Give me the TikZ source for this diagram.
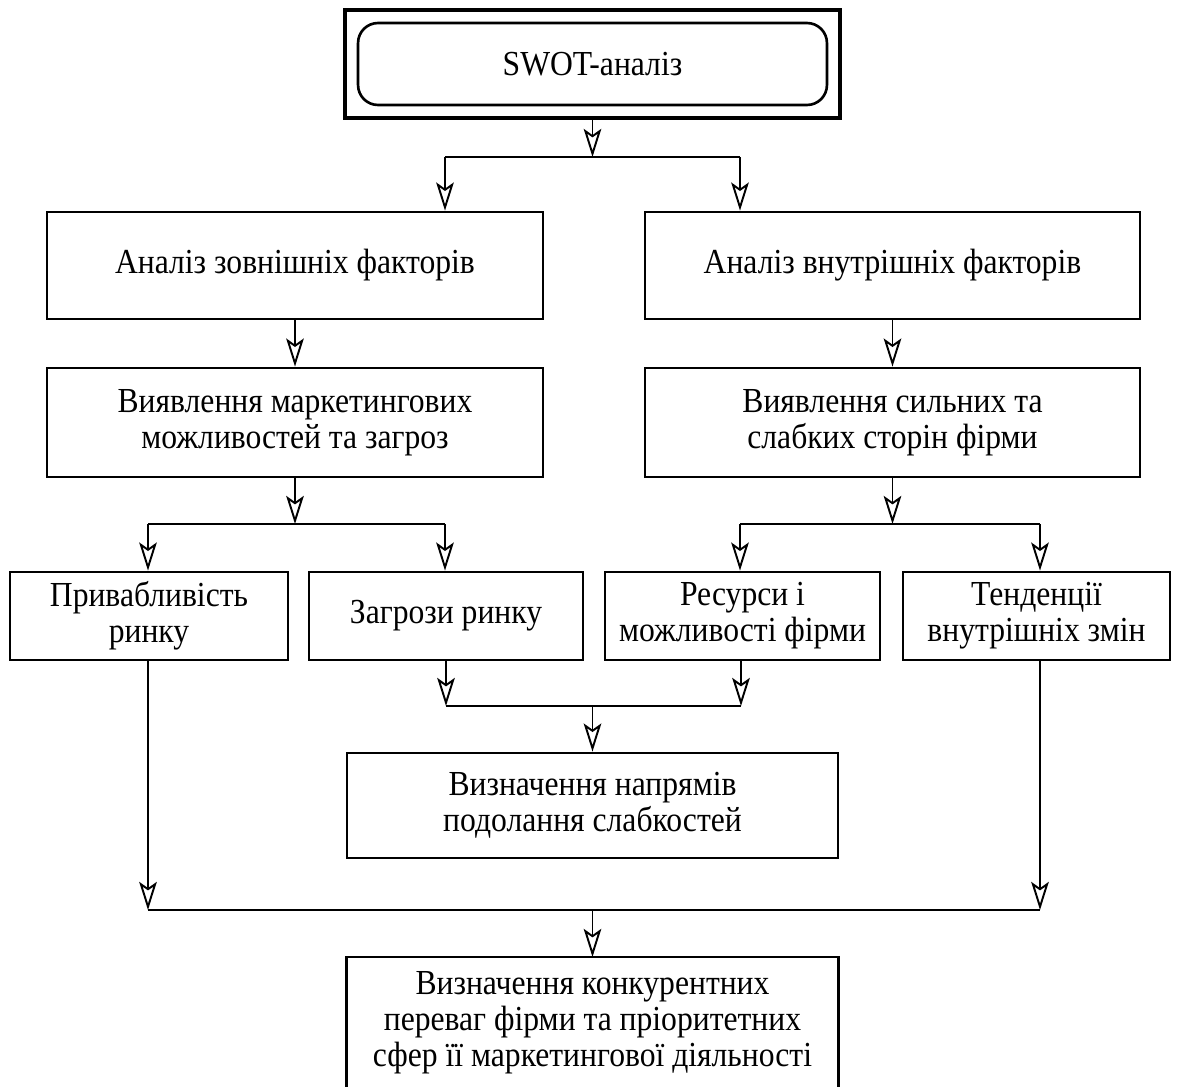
\documentclass[tikz,border=0pt]{standalone}
\usepackage{fontspec}
\setmainfont{Liberation Serif}[FakeStretch=0.9]
\usetikzlibrary{arrows.meta}
\usetikzlibrary{positioning}

\begin{document}
\begin{tikzpicture}[x=0.02cm,y=-0.02cm,
  box/.style={draw,line width=1.6pt,align=center,inner sep=2pt,font=\fontsize{20}{20.5}\selectfont},
  arr/.style={line width=1.1pt,-{Stealth[open,length=16pt,width=10pt,inset=3.5pt]}},
  ln/.style={line width=1.1pt}]
\useasboundingbox (0,0) rectangle (1177,1086);

% top
\node[draw,line width=2.2pt,minimum width=9.9cm,minimum height=2.16cm] (swot) at (592.5,64) {};
\node[box,rounded corners=0.4cm,line width=1.5pt,minimum width=9.38cm,minimum height=1.64cm] (swotin) at (592.5,64) {SWOT-аналіз};

% second and third rows
\node[box,minimum width=9.92cm,minimum height=2.14cm] (ext) at (295,265.5) {Аналіз зовнішніх факторів};
\node[box,minimum width=9.9cm,minimum height=2.14cm] (int) at (892.5,265.5) {Аналіз внутрішніх факторів};
\node[box,minimum width=9.92cm,minimum height=2.18cm] (opp) at (295,422.5) {Виявлення маркетингових\\можливостей та загроз};
\node[box,minimum width=9.9cm,minimum height=2.18cm] (str) at (892.5,422.5) {Виявлення сильних та\\слабких сторін фірми};

% fourth row
\node[box,minimum width=5.56cm,minimum height=1.76cm] (attr) at (149,616) {Привабливість\\ринку};
\node[box,minimum width=5.48cm,minimum height=1.76cm] (thr) at (446,616) {Загрози ринку};
\node[box,minimum width=5.5cm,minimum height=1.76cm] (res) at (742.5,616) {Ресурси і\\можливості фірми};
\node[box,minimum width=5.34cm,minimum height=1.76cm] (trend) at (1036.5,616) {Тенденції\\внутрішніх змін};

\node[box,minimum width=9.82cm,minimum height=2.1cm] (weak) at (592.5,805.5) {Визначення напрямів\\подолання слабкостей};
\node[align=center,anchor=north,inner ysep=8pt,minimum width=9.82cm,font=\fontsize{20}{20.5}\selectfont] (fin) at (592.5,957) {Визначення конкурентних\\переваг фірми та пріоритетних\\сфер її маркетингової діяльності};
\coordinate (cut) at (0,1100);
\draw[line width=1.6pt] (fin.north west |- cut) -- (fin.north west) -- (fin.north east) -- (fin.north east |- cut);

% branch points
\coordinate (j1) at (592.5,157);
\coordinate (a1) at (445,157);
\coordinate (a2) at (740,157);
\coordinate (j2) at (295,524);
\coordinate (b1) at (148,524);
\coordinate (b2) at (445,524);
\coordinate (j3) at (892.5,524);
\coordinate (c1) at (740,524);
\coordinate (c2) at (1040,524);
\coordinate (d1) at (446,706);
\coordinate (d2) at (741,706);
\coordinate (j4) at (592.5,706);
\coordinate (e1) at (148,910);
\coordinate (e2) at (1040,910);
\coordinate (j5) at (592.5,910);

\draw[arr] (swot) -- (j1);
\draw[ln] (a1) -- (a2);
\draw[arr] (a1) -- (a1 |- ext.north);
\draw[arr] (a2) -- (a2 |- int.north);

\draw[arr] (ext) -- (opp);
\draw[arr] (int) -- (str);

\draw[arr] (opp) -- (j2);
\draw[ln] (b1) -- (b2);
\draw[arr] (b1) -- (b1 |- attr.north);
\draw[arr] (b2) -- (b2 |- thr.north);
\draw[arr] (str) -- (j3);
\draw[ln] (c1) -- (c2);
\draw[arr] (c1) -- (c1 |- res.north);
\draw[arr] (c2) -- (c2 |- trend.north);

\draw[arr] (thr.south) -- (d1);
\draw[arr] (d2 |- res.south) -- (d2);
\draw[ln] (d1) -- (d2);
\draw[arr] (j4) -- (weak);

\draw[arr] (e1 |- attr.south) -- (e1);
\draw[arr] (e2 |- trend.south) -- (e2);
\draw[ln] (e1) -- (e2);
\draw[arr] (j5) -- (fin.north);

\end{tikzpicture}
\end{document}
